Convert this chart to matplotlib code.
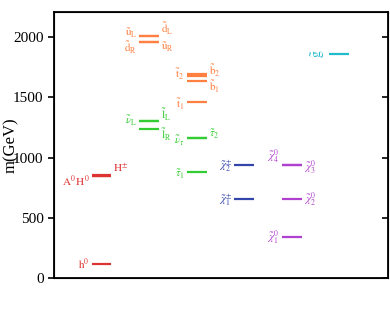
import matplotlib
matplotlib.use("Agg")
import matplotlib.pyplot as plt

plt.rcParams['font.family'] = ['Liberation Serif', 'DejaVu Serif']
plt.rcParams['mathtext.fontset'] = 'stix'

# mass spectrum (GeV), grouped by column in the plot
higgs_names = ['h0', 'H0', 'A0', 'Hpm']
higgs_mass = [116, 850, 850, 852]

squark_names = ['uL', 'dL', 'uR', 'dR', 't2', 'b2', 'b1', 't1']
squark_mass = [2008, 2010, 1958, 1960, 1697, 1675, 1636, 1460]

slepton_names = ['snuL', 'eL', 'eR', 'snutau', 'tau2', 'tau1']
slepton_mass = [1305, 1307, 1242, 1164, 1166, 878]

chargino_names = ['chi2p', 'chi1p']
chargino_mass = [938, 654]

neutralino_names = ['chi04', 'chi03', 'chi02', 'chi01']
neutralino_mass = [942, 935, 654, 339]

gluino_names = ['gluino']
gluino_mass = [1857]

# which column each state is drawn in
column = {'h0': 1, 'H0': 1, 'A0': 1, 'Hpm': 1,
          'uL': 2, 'dL': 2, 'uR': 2, 'dR': 2,
          'snuL': 2, 'eL': 2, 'eR': 2,
          't2': 3, 'b2': 3, 'b1': 3, 't1': 3,
          'snutau': 3, 'tau2': 3, 'tau1': 3,
          'chi2p': 4, 'chi1p': 4,
          'chi04': 5, 'chi03': 5, 'chi02': 5, 'chi01': 5,
          'gluino': 6}

# labels: (text, side, vertical offset in pixels)
labels = {
    'h0': (r'$\mathrm{h}^0$', 'l', 0),
    'A0': (r'$\mathrm{A}^0\,\mathrm{H}^0$', 'l', -6),
    'Hpm': (r'$\mathrm{H}^{\pm}$', 'r', 8),
    'uL': (r'$\tilde{\mathrm{u}}_{\mathrm{L}}$', 'l', 3),
    'dR': (r'$\tilde{\mathrm{d}}_{\mathrm{R}}$', 'l', -6),
    'dL': (r'$\tilde{\mathrm{d}}_{\mathrm{L}}$', 'r', 7),
    'uR': (r'$\tilde{\mathrm{u}}_{\mathrm{R}}$', 'r', -5),
    't2': (r'$\tilde{\mathrm{t}}_2$', 'l', -1),
    'b2': (r'$\tilde{\mathrm{b}}_2$', 'r', 6),
    'b1': (r'$\tilde{\mathrm{b}}_1$', 'r', -6),
    't1': (r'$\tilde{\mathrm{t}}_1$', 'l', -2),
    'snuL': (r'$\tilde{\nu}_{\mathrm{L}}$', 'l', 0),
    'eL': (r'$\tilde{\mathrm{l}}_{\mathrm{L}}$', 'r', 6),
    'eR': (r'$\tilde{\mathrm{l}}_{\mathrm{R}}$', 'r', -6),
    'snutau': (r'$\tilde{\nu}_{\tau}$', 'l', -3),
    'tau2': (r'$\tilde{\tau}_2$', 'r', 3),
    'tau1': (r'$\tilde{\tau}_1$', 'l', -2),
    'chi2p': (r'$\tilde{\chi}_2^{\pm}$', 'l', -1),
    'chi1p': (r'$\tilde{\chi}_1^{\pm}$', 'l', -1),
    'chi04': (r'$\tilde{\chi}_4^0$', 'l', 8),
    'chi03': (r'$\tilde{\chi}_3^0$', 'r', -2),
    'chi02': (r'$\tilde{\chi}_2^0$', 'r', -1),
    'chi01': (r'$\tilde{\chi}_1^0$', 'l', -1),
    'gluino': (r'$\tilde{\mathrm{g}}$', 'l', 1),
}

groups = [
    (higgs_names, higgs_mass, '#dd3333'),
    (squark_names, squark_mass, '#ff8040'),
    (slepton_names, slepton_mass, '#33cc33'),
    (chargino_names, chargino_mass, '#3344aa'),
    (neutralino_names, neutralino_mass, '#b040d0'),
    (gluino_names, gluino_mass, '#22bbcc'),
]

fig = plt.figure(figsize=(3.9, 3.29), dpi=100)
ax = fig.add_axes([54 / 390, 1 - 278 / 329, 334 / 390, 266 / 329])

hw = 0.21
for names, masses, color in groups:
    for n, m in zip(names, masses):
        c = column[n]
        ax.plot([c - hw, c + hw], [m, m], color=color, lw=1.6,
                solid_capstyle='butt')
        if n in labels:
            txt, side, dy = labels[n]
            if side == 'l':
                x, dx, ha = c - hw, -2, 'right'
            else:
                x, dx, ha = c + hw, 2, 'left'
            fs = 8
            rot = 0
            if n == 'gluino':
                rot, fs = 90, 10
            ax.annotate(txt, (x, m), xytext=(dx, dy), textcoords='offset pixels',
                        ha=ha, va='center', color=color, fontsize=fs,
                        rotation=rot)

ax.set_xlim(0, 7.03)
ax.set_ylim(0, 2210)
ax.set_yticks([0, 500, 1000, 1500, 2000])
ax.set_xticks([])
ax.tick_params(axis='y', direction='out', length=4, width=1.2,
               labelsize=11)
for s in ax.spines.values():
    s.set_linewidth(1.3)
ax.set_ylabel('m(GeV)', fontsize=12)
ax.yaxis.set_label_coords(-0.106, 0.5)

# mirrored ticks on the right, pointing inward
ax2 = ax.twinx()
ax2.set_ylim(ax.get_ylim())
ax2.set_yticks([0, 500, 1000, 1500, 2000])
ax2.tick_params(axis='y', direction='in', length=4, width=1.2,
                labelright=False)

fig.savefig('out.png', dpi=100)
